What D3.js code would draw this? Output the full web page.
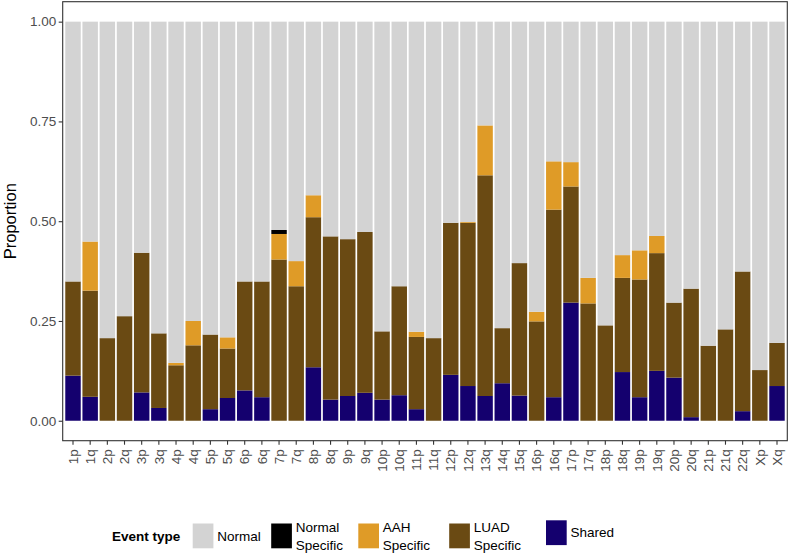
<!DOCTYPE html>
<html>
<head>
<meta charset="utf-8">
<script src="https://cdn.jsdelivr.net/npm/d3@7"></script>
<style>
  html, body { margin: 0; padding: 0; background: #fff; }
  svg { display: block; font-family: "Liberation Sans", Arial, Helvetica, sans-serif; }
</style>
</head>
<body>
<svg id="chart" width="790" height="555"></svg>
<script>
const arms = ["1p","1q","2p","2q","3p","3q","4p","4q","5p","5q","6p","6q","7p","7q","8p","8q","9p","9q","10p","10q","11p","11q","12p","12q","13q","14q","15q","16p","16q","17p","17q","18p","18q","19p","19q","20p","20q","21p","21q","22q","Xp","Xq"];

// segment proportions (bottom to top)
const shared = [0.113,0.060,0,0,0.071,0.032,0,0,0.029,0.057,0.076,0.059,0,0,0.134,0.053,0.062,0.070,0.053,0.064,0.029,0,0.115,0.087,0.062,0.094,0.063,0,0.059,0.296,0,0,0.122,0.059,0.125,0.108,0.009,0,0,0.024,0,0.087];
const luadTop = [0.349,0.326,0.207,0.262,0.421,0.219,0.139,0.189,0.216,0.181,0.349,0.349,0.404,0.337,0.510,0.462,0.455,0.473,0.224,0.337,0.210,0.207,0.496,0.496,0.615,0.232,0.395,0.249,0.529,0.587,0.294,0.239,0.358,0.354,0.420,0.296,0.331,0.188,0.229,0.374,0.127,0.195];
const aahTop = [0.349,0.449,0.207,0.262,0.421,0.219,0.145,0.250,0.216,0.209,0.349,0.349,0.468,0.400,0.565,0.462,0.455,0.473,0.224,0.337,0.223,0.207,0.496,0.498,0.740,0.232,0.395,0.273,0.650,0.648,0.358,0.239,0.415,0.427,0.463,0.296,0.331,0.188,0.229,0.374,0.127,0.195];
const normalSpecific = [0,0,0,0,0,0,0,0,0,0,0,0,0.010,0,0,0,0,0,0,0,0,0,0,0,0,0,0,0,0,0,0,0,0,0,0,0,0,0,0,0,0,0];

const yTicks = [0, 0.25, 0.5, 0.75, 1];
const yTickLabels = ["0.00","0.25","0.50","0.75","1.00"];

const types = ["Shared","LUAD Specific","AAH Specific","Normal Specific","Normal"];
const colors = {"Normal":"#D3D3D3","Normal Specific":"#000000","AAH Specific":"#DF9B27","LUAD Specific":"#6A4A13","Shared":"#14006E"};

const rows = arms.map((a, i) => {
  const s = shared[i];
  const l = luadTop[i] - shared[i];
  const h = aahTop[i] - luadTop[i];
  const ns = normalSpecific[i];
  return {arm: a, "Shared": s, "LUAD Specific": l, "AAH Specific": h, "Normal Specific": ns, "Normal": 1 - s - l - h - ns};
});

const svg = d3.select("#chart");
const panel = {left: 62.7, right: 787.3, top: 1.7, bottom: 440.7};

const x = d3.scaleBand().domain(arms)
  .range([panel.left, panel.right])
  .paddingInner(0.1).paddingOuter(0.15);
const y = d3.scaleLinear().domain([-0.05, 1.05]).range([panel.bottom, panel.top]);

const stack = d3.stack().keys(types)(rows);

svg.append("g").selectAll("g").data(stack).join("g")
  .attr("fill", d => colors[d.key])
  .selectAll("rect").data(d => d.map(v => ({v, key: d.key}))).join("rect")
  .attr("x", d => x(d.v.data.arm))
  .attr("width", x.bandwidth())
  .attr("y", d => y(d.v[1]))
  .attr("height", d => Math.max(0, y(d.v[0]) - y(d.v[1])));

// panel border
svg.append("rect")
  .attr("x", panel.left).attr("y", panel.top)
  .attr("width", panel.right - panel.left).attr("height", panel.bottom - panel.top)
  .attr("fill", "none").attr("stroke", "#333333").attr("stroke-width", 1.1);

// y axis
const yAxis = d3.axisLeft(y).tickValues(yTicks).tickFormat((d, i) => yTickLabels[i]).tickSize(4).tickPadding(2.5);
const gy = svg.append("g").attr("transform", `translate(${panel.left},0)`).call(yAxis);
gy.select(".domain").remove();
gy.selectAll(".tick line").attr("stroke", "#333333").attr("stroke-width", 1.1);
gy.selectAll(".tick text").attr("fill", "#4D4D4D").style("font-size", "13.5px");

// x axis
const xAxis = d3.axisBottom(x).tickSize(4).tickPadding(2.5);
const gx = svg.append("g").attr("transform", `translate(0,${panel.bottom})`).call(xAxis);
gx.select(".domain").remove();
gx.selectAll(".tick line").attr("stroke", "#333333").attr("stroke-width", 1.1);
gx.selectAll(".tick text")
  .attr("fill", "#4D4D4D").style("font-size", "13.5px")
  .attr("transform", "rotate(-90)")
  .attr("text-anchor", "end")
  .attr("x", -8.5).attr("y", 0).attr("dy", "0.35em");

// y title
svg.append("text")
  .attr("transform", `translate(16,${(panel.top + panel.bottom) / 2}) rotate(-90)`)
  .attr("text-anchor", "middle")
  .style("font-size", "16.5px").attr("fill", "#000")
  .text("Proportion");

// legend
const legend = svg.append("g");
legend.append("text").attr("x", 112).attr("y", 540.5)
  .style("font-size", "13.5px").style("font-weight", "bold").attr("fill", "#000")
  .text("Event type");

const legendItems = [
  {key: "Normal", kx: 192.7, ky: 523.5, lines: ["Normal"]},
  {key: "Normal Specific", kx: 271.2, ky: 523.5, lines: ["Normal","Specific"]},
  {key: "AAH Specific", kx: 358.3, ky: 523.5, lines: ["AAH","Specific"]},
  {key: "LUAD Specific", kx: 449.2, ky: 523.5, lines: ["LUAD","Specific"]},
  {key: "Shared", kx: 546, ky: 520.3, lines: ["Shared"]}
];
legendItems.forEach(it => {
  legend.append("rect").attr("x", it.kx).attr("y", it.ky).attr("width", 20.7).attr("height", 24.8)
    .attr("fill", colors[it.key]);
  const t = legend.append("text").attr("x", it.kx + 24.5).style("font-size", "13.5px").attr("fill", "#000");
  if (it.lines.length === 1) {
    t.attr("y", it.ky + 12.4).attr("dy", "0.35em").text(it.lines[0]);
  } else {
    t.attr("y", it.ky + 3.9).attr("dy", "0.35em").text(it.lines[0]);
    legend.append("text").attr("x", it.kx + 24.5).attr("y", it.ky + 21.4).attr("dy", "0.35em")
      .style("font-size", "13.5px").attr("fill", "#000").text(it.lines[1]);
  }
});
</script>
</body>
</html>
